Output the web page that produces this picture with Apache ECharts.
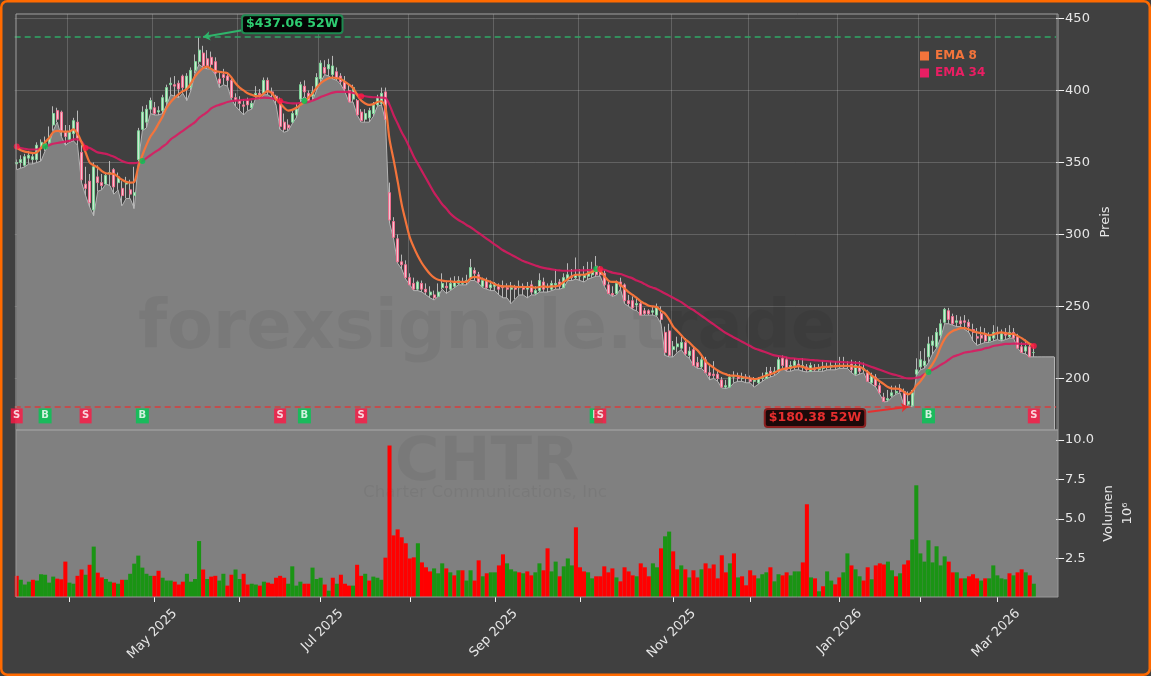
<!DOCTYPE html>
<html><head><meta charset="utf-8">
<style>html,body{margin:0;padding:0;background:#404040}#c{width:1151px;height:676px}</style>
<script src="https://cdn.jsdelivr.net/npm/echarts@6/dist/echarts.min.js"></script>
</head><body><div id="c"></div>
<script>
const opens=[349,350,348,353,352,352,361,362,364,376,
386,385,371,366,370,378,357,335,337,317,
340,336,335,342,345,336,332,335,331,327,
352,373,378,387,388,385,386,392,404,404,
405,410,401,402,414,420,426,422,423,420,
408,411,410,407,395,393,390,393,388,396,
398,398,407,399,396,393,378,376,378,383,
394,403,398,396,402,408,416,415,411,413,
410,406,400,394,393,385,380,381,384,390,
391,399,329,309,297,281,279,270,266,262,
266,262,258,258,257,263,264,262,264,266,
266,267,270,275,272,264,268,263,264,264,
264,263,262,263,263,264,262,265,259,261,
267,263,262,265,267,263,269,271,270,271,
270,271,272,278,276,273,265,259,259,267,
265,254,254,251,252,247,247,246,244,245,
232,233,220,222,221,225,216,220,211,208,
213,204,203,203,199,194,194,201,201,200,
201,200,198,197,200,200,205,204,205,214,
213,207,209,210,208,208,205,207,206,207,
208,208,209,208,209,209,210,203,208,206,
204,197,201,195,187,185,188,190,192,191,
182,181,203,208,209,215,223,222,230,239,
247,243,239,240,240,239,234,229,230,231,
226,228,232,227,232,229,232,229,222,219,
222,218];
const closes=[350,352,354,355,354,362,364,363,368,384,
380,372,368,371,379,367,338,332,322,347,
336,334,341,343,333,340,327,336,328,329,
372,385,387,393,384,386,395,402,405,403,
401,402,410,414,420,428,417,417,418,412,
405,409,407,395,393,391,389,390,391,398,
397,407,399,397,394,375,373,374,384,387,
404,399,393,399,409,419,412,418,417,409,
406,401,392,402,383,379,384,386,390,395,
398,380,310,298,281,279,270,265,262,267,
262,260,260,256,260,266,263,266,267,268,
267,268,277,273,267,268,263,265,266,262,
263,262,263,262,264,262,264,260,261,268,
262,264,266,266,264,270,272,270,272,272,
272,274,275,272,272,265,259,258,266,264,
254,252,249,252,244,245,245,247,249,241,
218,216,222,224,225,217,219,209,208,213,
204,202,202,200,194,195,201,201,200,201,
200,198,199,200,201,204,203,205,213,209,
206,209,212,209,209,206,209,206,207,208,
208,209,208,209,208,209,206,209,205,207,
198,202,195,190,184,186,190,191,191,181,
184,190,206,213,212,224,226,232,238,248,
241,238,240,238,239,236,232,228,228,226,
229,232,231,231,230,232,228,221,218,222,
215,218];
const highs=[352,355,356,358,357,364,366,368,375,389,
388,386,376,376,381,386,362,347,342,350,
348,342,343,351,346,343,337,340,338,347,
374,389,390,395,392,389,397,404,409,410,
407,411,412,416,425,437,431,428,427,423,
413,415,412,408,398,396,394,395,393,403,
401,409,409,402,397,395,384,380,387,391,
406,407,400,403,412,421,421,422,424,416,
412,410,404,404,394,387,387,388,392,397,
402,402,336,312,300,286,282,273,270,268,
268,266,264,261,266,273,268,270,271,271,
270,272,283,277,274,270,270,268,267,266,
268,266,267,265,268,266,267,268,264,273,
270,266,268,276,269,273,280,276,284,276,
278,281,281,285,278,275,267,264,268,270,
266,258,257,256,254,249,248,250,252,250,
236,238,226,229,229,228,222,222,215,216,
215,209,212,206,201,199,203,205,204,204,
203,202,201,201,204,208,208,208,215,216,
215,212,214,213,214,210,211,210,210,212,
211,212,212,215,215,212,213,212,212,211,
206,204,203,197,190,192,195,195,196,193,
191,192,214,219,221,229,230,235,241,249,
249,245,244,243,244,241,238,235,236,235,
232,237,236,234,235,237,235,231,225,227,
224,222];
const lows=[345,346,347,349,349,350,351,358,363,372,
378,368,362,364,365,362,336,327,319,313,
330,331,335,334,328,331,320,325,325,318,
350,372,374,384,383,383,384,390,397,396,
395,398,393,400,412,418,416,415,415,411,
402,404,403,394,389,386,383,386,387,395,
394,397,397,395,390,373,371,372,377,381,
392,396,392,393,400,406,411,410,408,407,
404,399,392,392,383,378,378,378,382,389,
390,379,308,297,280,276,269,265,261,261,
260,258,256,254.5,257,262,259,261,263,265,
265,265,268,268,266,263,262,261,261,258,
256,256,252,255,258,258,256,258,258,260,
260,260,261,262,262,263,268,268,269,268,
267,269,270,271,271,264,259,257,258,262,
252,250,248,247,244,244,244,244,243,238,
216,215,215,218,220,216,214,209,207,207,
204,199,200,198,193.4,193,194,197,198,198,
197,197,194,196,198,200,201,202,204,207,
205,205,206,206,205,204.5,205,205,205,205,
206,206,206,207,207,207,204,202,203,204,
198,196,194,189,183.7,184,187,189,190,180.5,
181,180.4,202,206,207,211,217,221,228,238,
238,237,236,236,234,232,226,223,224,225,
225,226,227,226,227,228,228,221,217.7,217,
215,215];
const areaTail=[215,215,215,215,215];
const ema8=[360,358.5,357.5,357,356.5,357,360,364,367,371,
372,371.5,371.4,371.5,373,370,364,357,350,348,
346.5,344,342.5,342.3,342,340,338,336.5,336,336.5,
347,355,362,368,372,377,382,388,392,395,
397.5,399.5,401,405,409.6,413,415.5,416.5,415,413.5,
413,412.5,412,409,405,402,400,398,397,396,
396,398,399.6,398,394,391,388,386,386.5,388,
390,392,395,398,402,405,407,408.5,409,408.5,
408,406,404,401.7,397,393,391,390,390.5,392,
392.5,388,366,352,337,321,309,298,291,285,
280,276,272.5,270,268.5,268,267.5,267.5,267,267,
267,267,269.5,270.5,270,269,268,267,265.5,264.5,
264,264,264,263.7,263.5,263.5,263.5,263.5,263,263.5,
264,263.5,264,264,265,267,269,271,272,272,
272,273,274,275,274.6,271,268,267,267,265,
262.5,260,258,256,253.5,252,250.5,250,249.6,247,
245,241,236,233,230,227,225,222,219.5,216,
212,209.5,207.5,205.5,204,203,202,202,201.7,201,
200.5,200,199.6,200,201,202,203,204,205.5,206.5,
207,207.5,208,208.5,208,207,206.6,207,207.3,208,
208,208.3,208.5,208.7,208.7,208.7,208.5,208,208,206.5,
204.5,202,200,198,196,194,193,193,192.7,190.5,
189,191,195,198,202,206,210,215,222,227.5,
231,233,234,235,235,234,233,232,231.5,231,
230,230.5,231.5,232,231.5,231,231,229.5,228,226,
224,222.5];
const ema34=[360.8,360,359.5,359,359,359,360,361,362,363,
363.5,364,364.5,365,366,366,364.5,361,360,358.5,
357,356.5,356,355,354,352.5,351,350,349.6,349.6,
350,351,353,355,357,358.7,361,363,366,368,
370,372,374,376,378,381,383,385,387.5,389,
390,391,392,392.7,393,393.2,393.4,393.6,394,394.4,
394.7,395,394.8,394.5,393.5,392.7,392,391.3,391,391,
391.3,391.5,392,393,394,395.5,396.5,397.5,398.5,399,
399,399,398.8,398.3,397.5,396.5,396,395.5,395.3,395.3,
395,394.8,390,383,377,371,366,360,354,349,
344,339,334,329,325,321,318,314.5,312,310,
308.5,306.6,305,303,301,299,297,295,293,291,
289,287.5,286,284.5,283,281.5,280.5,279.5,278.5,277.5,
276.8,276.3,275.8,275.3,275,274.8,274.8,274.8,275,275,
275,275.2,275.4,275.6,276,275.5,274.5,273.5,273,272.5,
271.5,270.5,269.5,268,267,265.5,264,263,262,260.5,
259,257.5,256,254.5,253,251,249,247.5,245.5,243.5,
241.5,239.5,237.5,235.5,233.5,231.6,230,228.5,227,225.5,
224,222.5,221,220,219,218,217,216,215.5,215.2,
214.5,214,213.8,213.5,213.3,213.1,212.8,212.6,212.4,212.2,
212,211.8,211.6,211.5,211.3,211.2,211,210.8,210.7,210,
209,208,207,206,205,204,203,202.4,201.5,200.5,
200,200,200.5,201,203,204.5,206,207.5,209.4,211,
213,215,216,217,218,218.4,219,219.5,220,221,
221.5,222.5,223,223.5,224,224,224.2,224.2,224,224,
224,222.5];
const volumes=[1.4,1.15,.85,1.03,1.15,1.1,1.5,1.47,.97,1.35,
1.22,1.18,2.3,.97,.9,1.4,1.8,1.47,2.1,3.25,
1.6,1.3,1.2,1.03,.97,.9,1.15,1.15,1.53,2.17,
2.68,1.92,1.53,1.4,1.4,1.72,1.28,1.1,1.1,1.03,
.85,1.03,1.53,1.03,1.2,3.6,1.8,1.2,1.35,1.4,
1.1,1.53,.78,1.47,1.8,1.2,1.53,.85,.9,.85,
.78,1.03,.97,.9,1.28,1.4,1.28,.9,2,.78,
1.03,.9,.9,1.92,1.2,1.28,.85,.46,1.28,.9,
1.47,.9,.78,.78,2.1,1.4,1.53,1.1,1.35,1.28,
1.15,2.55,9.65,3.96,4.34,3.84,3.46,2.5,2.57,3.46,
2.25,1.94,1.68,1.87,1.56,2.19,1.87,1.62,1.43,1.75,
1.75,1.1,1.75,1.1,2.38,1.37,1.56,1.62,1.62,2.06,
2.76,2.19,1.81,1.68,1.62,1.56,1.68,1.43,1.62,2.19,
1.75,3.14,1.68,2.3,1.37,2,2.5,2.06,4.47,1.94,
1.68,1.62,1.24,1.37,1.37,2,1.62,1.87,1.3,1.05,
1.94,1.68,1.43,1.37,2.19,1.94,1.37,2.19,1.94,3.14,
3.9,4.2,2.95,1.81,2.06,1.81,1.3,1.75,1.3,1.81,
2.19,1.87,2.12,1.24,2.7,1.62,2.19,2.82,1.3,1.37,
.8,1.75,1.43,1.24,1.5,1.62,1.94,1.05,1.5,1.43,
1.62,1.43,1.68,1.68,2.25,5.93,1.3,1.24,.42,.74,
1.68,1.1,.86,1.3,1.62,2.82,2.06,1.81,1.37,1.1,
1.94,1.18,2.06,2.19,2.12,2.3,1.75,1.37,1.56,2.12,
2.38,3.7,7.13,2.82,2.3,3.65,2.25,3.27,2.06,2.63,
2.3,1.62,1.62,1.24,1.24,1.37,1.5,1.24,1.1,1.24,
1.24,2.06,1.43,1.24,1.18,1.56,1.43,1.62,1.81,1.62,
1.43,.9];
const volGreen=[0,1,1,1,0,1,1,1,1,1,
0,0,0,1,1,0,0,1,0,1,
0,0,1,1,0,1,0,1,1,1,
1,1,1,1,0,0,1,1,1,0,
0,0,1,1,1,1,0,1,0,0,
1,1,0,0,1,1,0,0,1,1,
0,1,0,0,0,0,0,1,1,1,
1,0,0,1,1,1,0,1,0,1,
0,0,0,1,0,0,1,0,1,1,
1,0,0,0,0,0,0,0,0,1,
0,0,0,1,1,1,0,1,0,1,
0,1,1,0,0,1,0,1,1,0,
0,1,1,1,0,1,0,0,1,1,
0,0,1,1,0,1,1,1,0,0,
0,1,1,0,0,0,0,0,1,0,
0,0,0,1,0,0,0,1,1,0,
1,1,0,0,1,0,1,0,0,1,
0,0,0,0,0,0,1,0,1,0,
0,0,0,1,1,1,0,1,1,0,
0,1,1,1,0,0,1,0,1,0,
1,1,0,0,1,1,0,1,1,0,
0,1,0,0,0,1,1,0,1,0,
0,1,1,1,1,1,1,1,1,1,
0,0,1,0,1,0,0,0,1,0,
1,1,1,1,1,0,1,0,0,1,
0,1];
const monthTickIndex=[13,34,55,75,97,118,139,162,181,203,223,242];
const monthTickLabels=['','May 2025','','Jul 2025','','Sep 2025','','Nov 2025','','Jan 2026','','Mar 2026'];
const priceTicks=[200,250,300,350,400,450];
const volumeTicks=[2.5,5,7.5,10];
const buyIndex=[7,31,71,143,225];
const buyDotPrice=[361,351,392.7,276,204.5];
const sellIndex=[0,17,65,85,144,251];
const sellDotPrice=[361,360,392.7,396,276,222.5];
const signalLabelPrice=174;
const high52=437.06, low52=180.38;
const slotCount=257;

const categories=Array.from({length:slotCount},(_,i)=>{const k=monthTickIndex.indexOf(i);return k>=0?monthTickLabels[k]:'';});
const isTick=i=>monthTickIndex.indexOf(i)>=0;
const isLabel=i=>{const k=monthTickIndex.indexOf(i);return k>=0&&monthTickLabels[k]!=='';};
const wickData=opens.map((o,i)=>[o,closes[i],lows[i],highs[i]]);
const bodyData=opens.map((o,i)=>[o,closes[i],Math.min(o,closes[i]),Math.max(o,closes[i])]);
const font='"DejaVu Sans"';
const txt='#e6e6e6';
const chart=echarts.init(document.getElementById('c'),null,{renderer:'canvas'});
const splitCol='rgba(255,255,255,0.18)';
const boxLabel=(fg,bg,bd,t)=>({show:true,position:'inside',color:fg,fontWeight:'bold',fontSize:12.5,fontFamily:font,formatter:t,
  backgroundColor:bg,borderColor:bd,borderWidth:2,borderRadius:2,padding:[2,3,1,3]});
chart.setOption({
 animation:false,
 backgroundColor:'#404040',
 textStyle:{fontFamily:font},
 grid:[
  {left:14.7,top:14,width:1041.4,height:416,show:false},
  {left:14.7,top:430,width:1041.4,height:167,show:false}
 ],
 xAxis:[
  {type:'category',gridIndex:0,data:categories,boundaryGap:true,axisLine:{show:false},
   axisTick:{show:false},axisLabel:{show:false},
   splitLine:{show:true,interval:(i)=>isTick(i),lineStyle:{color:splitCol,width:1}}},
  {type:'category',gridIndex:1,data:categories,boundaryGap:true,axisLine:{show:false},
   axisTick:{show:true,alignWithLabel:true,interval:(i)=>isTick(i),length:5,lineStyle:{color:'#f0f0f0',width:1}},
   axisLabel:{show:true,interval:(i)=>isLabel(i),rotate:45,color:txt,fontSize:13,fontFamily:font,margin:35,padding:[0,-29,0,0],hideOverlap:false},
   splitLine:{show:false}}
 ],
 yAxis:[
  {type:'value',gridIndex:0,position:'right',min:164.2,max:453.1,
   axisLine:{show:false},
   axisTick:{show:true,length:8,lineStyle:{color:'#f0f0f0'},customValues:priceTicks},
   axisLabel:{color:txt,fontSize:13,fontFamily:font,margin:9,customValues:priceTicks,showMinLabel:true,showMaxLabel:true},
   splitLine:{show:true,lineStyle:{color:splitCol,width:1}},
   name:'Preis',nameLocation:'middle',nameRotate:90,nameGap:43,nameMoveOverlap:false,nameTextStyle:{color:txt,fontSize:13,fontFamily:font}},
  {type:'value',gridIndex:1,position:'right',min:0.06,max:10.63,
   axisLine:{show:false},
   axisTick:{show:true,length:8,lineStyle:{color:'#f0f0f0'},customValues:volumeTicks},
   axisLabel:{color:txt,fontSize:13,fontFamily:font,margin:9,customValues:volumeTicks,formatter:v=>v.toFixed(1)},
   splitLine:{show:false},
   name:'Volumen\n10⁶',nameLocation:'middle',nameRotate:90,nameGap:43,nameMoveOverlap:false,nameTextStyle:{color:txt,fontSize:13,fontFamily:font,lineHeight:19}}
 ],
 legend:{left:915,top:45,orient:'vertical',icon:'rect',itemWidth:9,itemHeight:9,itemGap:5,selectedMode:false,
  data:[{name:'EMA 8',textStyle:{color:'#f4743b'}},{name:'EMA 34',textStyle:{color:'#e91e63'}}],
  textStyle:{fontWeight:'bold',fontSize:12,fontFamily:font,padding:[0,0,0,1]}},
 graphic:[
  {type:'rect',z:0,shape:{x:16,y:430,width:1042,height:167},style:{fill:'#808080'}},
  {type:'text',z:1.5,style:{x:487,y:331,text:'forexsignale.trade',align:'center',verticalAlign:'middle',font:'bold 67px "DejaVu Sans"',fill:'rgba(0,0,0,0.055)'}},
  {type:'text',z:1.5,style:{x:487,y:464,text:'CHTR',align:'center',verticalAlign:'middle',font:'bold 61px "DejaVu Sans"',fill:'rgba(0,0,0,0.05)'}},
  {type:'text',z:1.5,style:{x:485,y:493,text:'Charter Communications, Inc',align:'center',verticalAlign:'middle',font:'16.7px "DejaVu Sans"',fill:'rgba(0,0,0,0.05)'}},
  {type:'rect',z:6,shape:{x:16,y:14,width:1042,height:416},style:{fill:'none',stroke:'#a0a0a0',lineWidth:1}},
  {type:'rect',z:6,shape:{x:16,y:430,width:1042,height:167},style:{fill:'none',stroke:'#9a9a9a',lineWidth:1}},
  {type:'rect',z:100,shape:{x:1.25,y:1.25,width:1148.5,height:673.5,r:6},style:{fill:'none',stroke:'#ff6a00',lineWidth:2.5}}
 ],
 series:[
  {name:'Low area',type:'line',xAxisIndex:0,yAxisIndex:0,z:1,data:lows.concat(areaTail),showSymbol:false,silent:true,
   lineStyle:{color:'#b4b4b4',width:1},areaStyle:{color:'#808080',opacity:1,origin:'start'},
   markLine:{silent:true,symbol:'none',label:{show:false},lineStyle:{color:'#b4b4b4',width:1,type:'solid'},
    data:[[{coord:[256,areaTail[0]]},{coord:[256,164.2]}]]}},
  {name:'Wicks',type:'candlestick',xAxisIndex:0,yAxisIndex:0,z:3,barWidth:1,data:wickData,silent:true,
   itemStyle:{color:'#b8b8b8',color0:'#b8b8b8',borderColor:'#b8b8b8',borderColor0:'#b8b8b8',borderWidth:1}},
  {name:'Bodies',type:'candlestick',xAxisIndex:0,yAxisIndex:0,z:3,barWidth:2.5,data:bodyData,silent:true,
   itemStyle:{color:'#cfe8d2',color0:'#f0c4d0',borderColor:'#7fd49a',borderColor0:'#f0708f',borderWidth:1}},
  {name:'EMA 34',type:'line',xAxisIndex:0,yAxisIndex:0,z:4,data:ema34,showSymbol:false,smooth:0.3,
   lineStyle:{color:'#d81b60',width:2.2,opacity:.9},itemStyle:{color:'#e91e63'}},
  {name:'EMA 8',type:'line',xAxisIndex:0,yAxisIndex:0,z:4,data:ema8,showSymbol:false,smooth:0.3,
   lineStyle:{color:'#f4743b',width:2.2},itemStyle:{color:'#f4743b'}},
  {name:'Buy dots',type:'scatter',xAxisIndex:0,yAxisIndex:0,z:5,symbol:'circle',symbolSize:6,silent:true,
   data:buyIndex.map((x,i)=>[x,buyDotPrice[i]]),itemStyle:{color:'#00c853'}},
  {name:'Sell dots',type:'scatter',xAxisIndex:0,yAxisIndex:0,z:5,symbol:'circle',symbolSize:6,silent:true,
   data:sellIndex.map((x,i)=>[x,sellDotPrice[i]]),itemStyle:{color:'#ff1744'}},
  {name:'Buy',type:'scatter',xAxisIndex:0,yAxisIndex:0,z:5,symbol:'rect',symbolSize:[13,15],silent:true,
   data:buyIndex.map(x=>[x,signalLabelPrice]),itemStyle:{color:'#00c853'},
   label:{show:true,position:'inside',formatter:'B',color:'#fff',fontWeight:'bold',fontSize:10,fontFamily:font}},
  {name:'Sell',type:'scatter',xAxisIndex:0,yAxisIndex:0,z:6,symbol:'rect',symbolSize:[12,15],silent:true,
   data:sellIndex.map(x=>[x,signalLabelPrice]),itemStyle:{color:'#ff1744'},
   label:{show:true,position:'inside',formatter:'S',color:'#fff',fontWeight:'bold',fontSize:10,fontFamily:font}},
  {name:'52W high',type:'line',xAxisIndex:0,yAxisIndex:0,z:7,data:[],silent:true,
   markLine:{silent:true,symbol:'none',label:{show:false},lineStyle:{color:'#2fa866',width:1.5,type:[6,4]},data:[{yAxis:high52}]},
   markPoint:{silent:true,symbol:'rect',symbolSize:1,z:8,itemStyle:{color:'transparent'},
    label:boxLabel('#2ecc71','#050505','#1e8a50','$437.06 52W'),data:[{coord:[68,446]}]}},
  {name:'52W high arrow',type:'line',xAxisIndex:0,yAxisIndex:0,z:7,data:[],silent:true,
   markLine:{silent:true,symbol:['none','arrow'],symbolSize:7,label:{show:false},lineStyle:{color:'#2fb56b',width:2,type:'solid'},
    data:[[{coord:[56,442]},{coord:[46,high52]}]]}},
  {name:'52W low',type:'line',xAxisIndex:0,yAxisIndex:0,z:7,data:[],silent:true,
   markLine:{silent:true,symbol:'none',label:{show:false},lineStyle:{color:'#d63c3c',width:1.5,type:[6,4]},data:[{yAxis:low52}]},
   markPoint:{silent:true,symbol:'rect',symbolSize:1,z:8,itemStyle:{color:'transparent'},
    label:boxLabel('#e62e2e','#1c0a0a','#8a2020','$180.38 52W'),data:[{coord:[197,172.6]}]}},
  {name:'52W low arrow',type:'line',xAxisIndex:0,yAxisIndex:0,z:7,data:[],silent:true,
   markLine:{silent:true,symbol:['none','arrow'],symbolSize:7,label:{show:false},lineStyle:{color:'#e53030',width:2,type:'solid'},
    data:[[{coord:[210,176.7]},{coord:[220,low52]}]]}},
  {name:'Volume',type:'bar',xAxisIndex:1,yAxisIndex:1,z:3,barWidth:'100%',silent:true,
   data:volumes.map((v,i)=>({value:v,itemStyle:{color:volGreen[i]?'#1a9414':'#ff0000'}}))}
 ]
});
</script></body></html>
